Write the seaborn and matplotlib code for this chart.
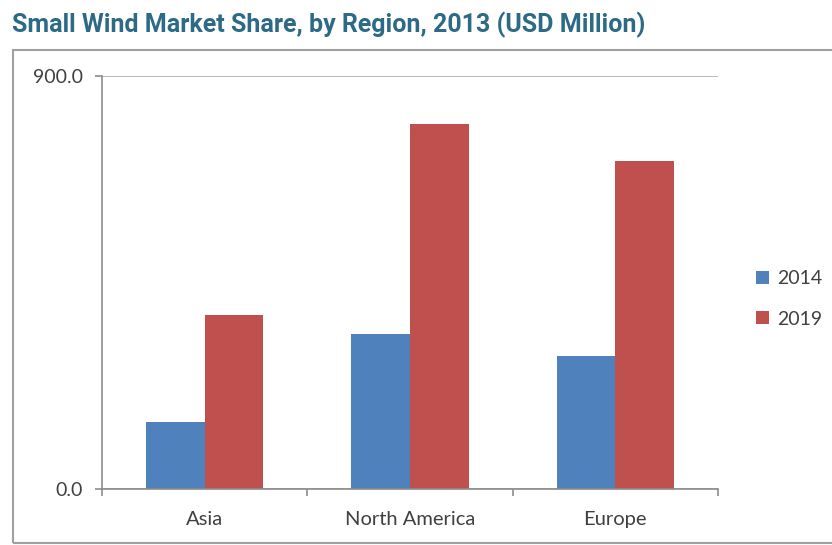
import matplotlib
matplotlib.use("Agg")
import matplotlib.pyplot as plt
from matplotlib.patches import Rectangle
import seaborn as sns
import pandas as pd

# Market size per region, USD million
regions = ["Asia", "North America", "Europe"]
years = ["2014", "2019"]
values_2014 = [147, 337, 290]
values_2019 = [380, 795, 715]

df = pd.DataFrame({
    "Region": regions * 2,
    "Year": [years[0]] * 3 + [years[1]] * 3,
    "Value": values_2014 + values_2019,
})

sns.set_theme(style="white")
plt.rcParams["font.family"] = ["Lato", "DejaVu Sans"]

W, H = 832, 545
fig = plt.figure(figsize=(W / 100, H / 100), dpi=100)
ax = fig.add_axes([102 / W, 1 - 489 / H, (718 - 102) / W, (489 - 76) / H])

palette = {"2014": "#4f81bd", "2019": "#c0504d"}
sns.barplot(data=df, x="Region", y="Value", hue="Year", palette=palette,
            width=0.57, saturation=1, linewidth=0, ax=ax, legend=True)

ax.set_ylim(0, 900)
ax.set_xlim(-0.5, 2.5)
ax.set_yticks([0, 900])
ax.set_yticklabels(["0.0", "900.0"])
ax.set_xlabel("")
ax.set_ylabel("")

axis_grey = "#8c8c8c"
text_grey = "#404040"
ax.yaxis.grid(True, color="#b4b4b4", linewidth=1.3)
ax.set_axisbelow(True)
for side in ["top", "right"]:
    ax.spines[side].set_visible(False)
for side in ["left", "bottom"]:
    ax.spines[side].set_color(axis_grey)
    ax.spines[side].set_linewidth(1.2)

ax.tick_params(axis="y", length=5, width=1.2, color=axis_grey, labelsize=14,
               labelcolor=text_grey, pad=9, left=True)
ax.tick_params(axis="x", which="major", length=0, labelsize=14.5,
               labelcolor=text_grey, pad=16)
ax.set_xticks([-0.5, 0.5, 1.5, 2.5], minor=True)
ax.tick_params(axis="x", which="minor", length=5, width=1.2, color=axis_grey,
               bottom=True)

leg = ax.legend(loc="center left", bbox_to_anchor=(756 / W, 1 - 299 / H),
                bbox_transform=fig.transFigure, frameon=False, borderpad=0,
                borderaxespad=0, handlelength=0.65, handleheight=0.65,
                handletextpad=0.45, labelspacing=1.2, fontsize=14)
for t in leg.get_texts():
    t.set_color(text_grey)

# Outer chart frame
fig.patches.append(Rectangle((13 / W, 1 - 543 / H), (W + 5 - 13) / W, (543 - 50) / H,
                             transform=fig.transFigure, fill=False,
                             edgecolor="#a0a0a0", linewidth=1.5, clip_on=False))

fig.text(12 / W, 1 - 25 / H, "Small Wind Market Share, by Region, 2013 (USD Million)",
         fontsize=18, fontweight="bold", color="#2c6a86", va="center", ha="left",
         family=["Liberation Sans Narrow", "Roboto", "DejaVu Sans"])

fig.savefig("out.png", dpi=100)
